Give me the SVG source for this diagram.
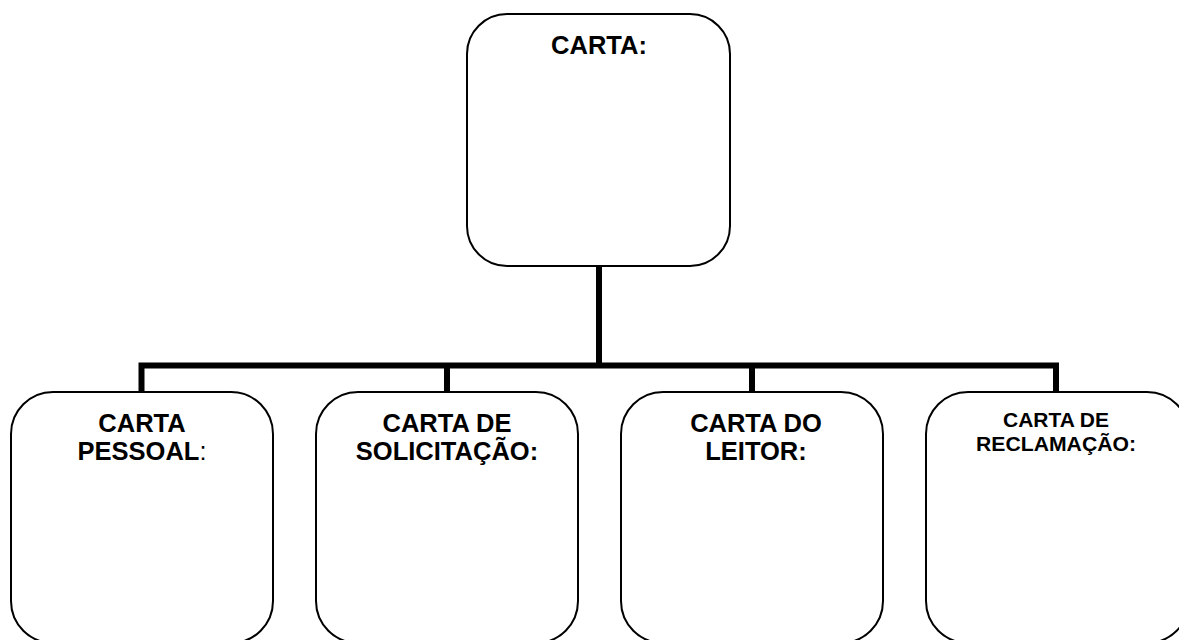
<svg xmlns="http://www.w3.org/2000/svg" width="1179" height="640" viewBox="0 0 1179 640">
<style>
.box{fill:#fff;stroke:#000;stroke-width:2}
.conn{fill:none;stroke:#000;stroke-width:6;stroke-linejoin:miter;stroke-linecap:butt}
.t{font-family:"Liberation Sans",Arial,sans-serif;font-weight:bold;font-size:25.5px;fill:#000;text-anchor:middle}
.s{font-family:"Liberation Sans",Arial,sans-serif;font-weight:bold;font-size:20px;fill:#000;text-anchor:middle}
.n{font-weight:normal}
</style>
<rect width="1179" height="640" fill="#fff"/>
<g id="connectors">
<path class="conn" d="M599,266 V365.5"/>
<path class="conn" d="M141.5,392 V365.5 H1056 V392"/>
<path class="conn" d="M447,365.5 V392"/>
<path class="conn" d="M752,365.5 V392"/>
</g>
<g id="carta">
<rect class="box" x="467" y="14" width="263" height="252" rx="40" ry="40"/>
<text class="t" x="599" y="53.5">CARTA:</text>
</g>
<g id="carta-pessoal">
<rect class="box" x="11" y="392" width="262" height="251" rx="42" ry="42"/>
<text class="t" x="142" y="431.5">CARTA</text>
<text class="t" x="142" y="460">PESSOAL<tspan class="n">:</tspan></text>
</g>
<g id="carta-solicitacao">
<rect class="box" x="316" y="392" width="262" height="251" rx="42" ry="42"/>
<text class="t" x="447" y="431.5">CARTA DE</text>
<text class="t" x="447" y="460">SOLICITAÇÃO:</text>
</g>
<g id="carta-leitor">
<rect class="box" x="621" y="392" width="262" height="251" rx="42" ry="42"/>
<text class="t" x="756" y="431.5">CARTA DO</text>
<text class="t" x="756" y="460">LEITOR:</text>
</g>
<g id="carta-reclamacao">
<rect class="box" x="926" y="392" width="263" height="251" rx="42" ry="42"/>
<text class="s" x="1056" y="427" textLength="106" lengthAdjust="spacingAndGlyphs">CARTA DE</text>
<text class="s" x="1056" y="451" textLength="160" lengthAdjust="spacingAndGlyphs">RECLAMAÇÃO:</text>
</g>
</svg>
